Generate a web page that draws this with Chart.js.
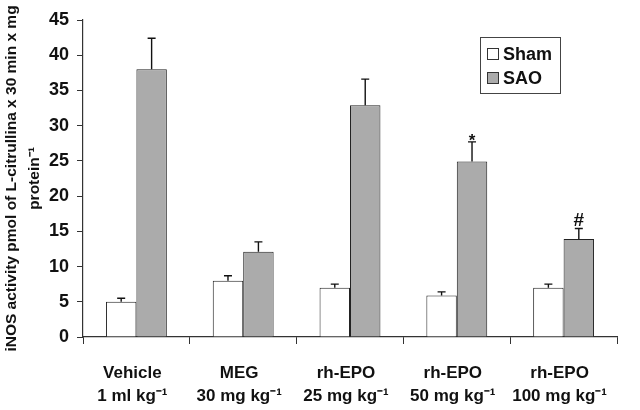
<!DOCTYPE html>
<html>
<head>
<meta charset="utf-8">
<script src="https://cdn.jsdelivr.net/npm/chart.js@4.4.1/dist/chart.umd.min.js"></script>
<style>
    html, body { margin: 0; padding: 0; background: #fff; }
    #wrap { width: 640px; height: 410px; position: relative; }
</style>
</head>
<body>
<div id="wrap"><canvas id="inosChart"></canvas></div>
<script>
const groups = ['Vehicle', 'MEG', 'rh-EPO', 'rh-EPO', 'rh-EPO'];
const doses = ['1 ml kg\u207B\u00B9', '30 mg kg\u207B\u00B9', '25 mg kg\u207B\u00B9', '50 mg kg\u207B\u00B9', '100 mg kg\u207B\u00B9'];
const shamValues = [5, 8, 7, 5.9, 7];
const shamErrors = [0.5, 0.7, 0.5, 0.5, 0.5];
const saoValues = [38, 12.1, 32.9, 24.9, 13.9];
const saoErrors = [4.4, 1.4, 3.7, 2.8, 1.5];
const saoMarks = ['', '', '', '*', '#'];
const yTicks = [0, 5, 10, 15, 20, 25, 30, 35, 40, 45];

const labels = groups.map((g, i) => [g, doses[i]]);
const errorsByDataset = [shamErrors, saoErrors];
const marksByDataset = [[], saoMarks];

// error bars (upper only) + significance marks
const errorBars = {
    id: 'errorBars',
    afterDatasetsDraw(chart) {
        const ctx = chart.ctx;
        const yScale = chart.scales.y;
        ctx.save();
        ctx.strokeStyle = '#111';
        ctx.lineWidth = 1.4;
        chart.data.datasets.forEach((ds, d) => {
            const meta = chart.getDatasetMeta(d);
            meta.data.forEach((bar, i) => {
                const top = yScale.getPixelForValue(ds.data[i] + errorsByDataset[d][i]);
                ctx.beginPath();
                ctx.moveTo(bar.x, bar.y);
                ctx.lineTo(bar.x, top);
                ctx.moveTo(bar.x - 4, top);
                ctx.lineTo(bar.x + 4, top);
                ctx.stroke();
                const mark = marksByDataset[d][i];
                if (mark) {
                    ctx.fillStyle = '#111';
                    ctx.textAlign = 'center';
                    ctx.textBaseline = 'alphabetic';
                    ctx.font = mark === '#' ? 'bold 19px "Liberation Sans", Arial' : 'bold 17px "Liberation Sans", Arial';
                    ctx.fillText(mark, bar.x, top - (mark === '#' ? 3 : -4));
                }
            });
        });
        ctx.restore();
    }
};

// boxed legend in the upper right
const boxLegend = {
    id: 'boxLegend',
    afterDraw(chart) {
        const ctx = chart.ctx;
        const area = chart.chartArea;
        const x = area.left + 397, y = area.top + 17;
        ctx.save();
        ctx.strokeStyle = '#444';
        ctx.lineWidth = 1;
        ctx.strokeRect(x + 0.5, y + 0.5, 80, 56);
        ctx.font = 'bold 18px "Liberation Sans", Arial';
        ctx.textBaseline = 'middle';
        ctx.textAlign = 'left';
        chart.data.datasets.forEach((ds, d) => {
            const ry = y + 11 + d * 24;
            ctx.fillStyle = ds.backgroundColor;
            ctx.fillRect(x + 7.5, ry + 0.5, 11, 11);
            ctx.strokeStyle = '#333';
            ctx.strokeRect(x + 7.5, ry + 0.5, 11, 11);
            ctx.fillStyle = '#111';
            ctx.fillText(ds.label, x + 23, ry + 7);
        });
        ctx.restore();
    }
};

new Chart(document.getElementById('inosChart'), {
    type: 'bar',
    data: {
        labels: labels,
        datasets: [{
                label: 'Sham',
                data: shamValues,
                backgroundColor: '#ffffff',
                borderColor: '#222',
                borderWidth: 1
            }, {
                label: 'SAO',
                data: saoValues,
                backgroundColor: '#ababab',
                borderColor: '#222',
                borderWidth: 1
            }]
    },
    options: {
        responsive: true,
        maintainAspectRatio: false,
        animation: false,
        layout: {
            padding: {top: 20, right: 23, bottom: 0, left: 0}
        },
        datasets: {
            bar: {categoryPercentage: 0.57, barPercentage: 1.0}
        },
        plugins: {
            legend: {display: false},
            tooltip: {enabled: false}
        },
        scales: {
            x: {
                afterFit(scale) { scale.height = 73; },
                grid: {
                    drawOnChartArea: false,
                    tickLength: 7,
                    color: '#333'
                },
                border: {color: '#333', width: 1.2},
                ticks: {
                    color: '#111',
                    padding: 17,
                    labelOffset: -4,
                    maxRotation: 0,
                    autoSkip: false,
                    font: {family: '"Liberation Sans", Arial', weight: 'bold', size: 17, lineHeight: 1.4}
                }
            },
            y: {
                min: 0,
                max: 45,
                afterFit(scale) { scale.width = 83; },
                afterBuildTicks(scale) { scale.ticks = yTicks.map(v => ({value: v})); },
                grid: {
                    drawOnChartArea: false,
                    tickLength: 6,
                    color: '#333'
                },
                border: {color: '#333', width: 1.2},
                ticks: {
                    color: '#111',
                    padding: 8,
                    font: {family: '"Liberation Sans", Arial', weight: 'bold', size: 18}
                },
                title: {
                    display: true,
                    text: ['iNOS activity pmol of L-citrullina x 30 min x mg', 'protein\u207B\u00B9'],
                    color: '#111',
                    padding: {top: 0, bottom: 0},
                    font: {family: '"Liberation Sans", Arial', weight: 'bold', size: 15.5, lineHeight: 1.5}
                }
            }
        }
    },
    plugins: [errorBars, boxLegend]
});
</script>
</body>
</html>
